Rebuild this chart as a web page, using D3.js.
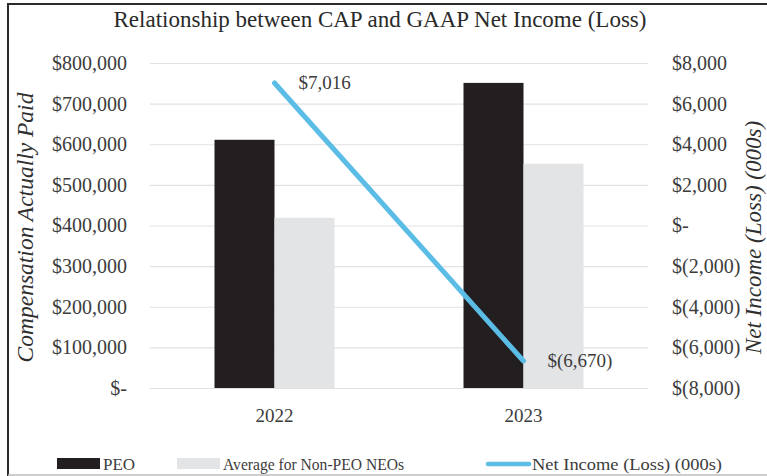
<!DOCTYPE html>
<html>
<head>
<meta charset="utf-8">
<script src="https://cdn.jsdelivr.net/npm/d3@7"></script>
<style>
  html, body { margin: 0; padding: 0; background: #fff; }
  svg { display: block; }
  text { font-family: "Liberation Serif", "Times New Roman", serif; }
</style>
</head>
<body>
<script>
// ---- data ----
const years = ["2022", "2023"];
const seriesNames = ["PEO", "Average for Non-PEO NEOs"];
const peoValues = [611000, 751000];
const nonPeoValues = [419000, 552000];
const netIncomeValues = [7016, -6670];
const netIncomeLabels = ["$7,016", "$(6,670)"];
const leftTickValues = [0, 100000, 200000, 300000, 400000, 500000, 600000, 700000, 800000];
const rightTickValues = [-8000, -6000, -4000, -2000, 0, 2000, 4000, 6000, 8000];
const titleText = "Relationship between CAP and GAAP Net Income (Loss)";
const leftAxisTitle = "Compensation Actually Paid";
const rightAxisTitle = "Net Income (Loss) (000s)";
const lineName = "Net Income (Loss) (000s)";

// ---- layout ----
const W = 767, H = 476;
const plot = { left: 150, right: 648, top: 63, bottom: 388 };
const colors = { peo: "#231f20", nonPeo: "#e3e4e6", line: "#5bbde6", grid: "#e2e2e2", text: "#3c3c3c" };

const svg = d3.select("body").append("svg").attr("width", W).attr("height", H);
svg.append("rect").attr("width", W).attr("height", H).attr("fill", "#fff");

// frame
svg.append("line").attr("x1", 8).attr("x2", W).attr("y1", 4).attr("y2", 4).attr("stroke", "#2b2b2b").attr("stroke-width", 2);
svg.append("line").attr("x1", 8).attr("x2", 8).attr("y1", 3).attr("y2", H).attr("stroke", "#2b2b2b").attr("stroke-width", 2);
svg.append("line").attr("x1", 8).attr("x2", W).attr("y1", 475).attr("y2", 475).attr("stroke", "#bdbdbd").attr("stroke-width", 1.5);

// scales
const x0 = d3.scaleBand().domain(years).range([plot.left, plot.right]).paddingInner(0).paddingOuter(0);
const bw = x0.bandwidth();
const x1 = d3.scaleBand().domain(seriesNames).range([bw / 2 - 60, bw / 2 + 60]).padding(0);
const yL = d3.scaleLinear().domain([0, 800000]).range([plot.bottom, plot.top]);
const yR = d3.scaleLinear().domain([-8000, 8000]).range([plot.bottom, plot.top]);

const fmtL = v => v === 0 ? "$-" : "$" + d3.format(",")(v);
const fmtR = v => v === 0 ? "$-" : (v < 0 ? "$(" + d3.format(",")(-v) + ")" : "$" + d3.format(",")(v));

// gridlines
const grid = svg.append("g").attr("transform", `translate(${plot.left},0)`)
  .call(d3.axisLeft(yL).tickValues(leftTickValues).tickSize(-(plot.right - plot.left)).tickFormat(""));
grid.select(".domain").remove();
grid.selectAll("line").attr("stroke", colors.grid).attr("stroke-width", 1.2);

// left axis
const axL = svg.append("g").attr("transform", "translate(127,0)")
  .call(d3.axisLeft(yL).tickValues(leftTickValues).tickSize(0).tickPadding(0).tickFormat(fmtL));
axL.select(".domain").remove();
axL.selectAll("text").attr("font-family", "Liberation Serif").attr("font-size", 20).attr("fill", colors.text).attr("dy", "0.32em");

// right axis
const axR = svg.append("g").attr("transform", "translate(672,0)")
  .call(d3.axisRight(yR).tickValues(rightTickValues).tickSize(0).tickPadding(0).tickFormat(fmtR));
axR.select(".domain").remove();
axR.selectAll("text").attr("font-family", "Liberation Serif").attr("font-size", 20).attr("fill", colors.text).attr("dy", "0.32em");

// bars
const rows = years.map((y, i) => ({ year: y, vals: [
  { s: seriesNames[0], v: peoValues[i], c: colors.peo },
  { s: seriesNames[1], v: nonPeoValues[i], c: colors.nonPeo } ] }));
const g = svg.append("g");
g.selectAll("g.cat").data(rows).join("g").attr("class", "cat")
  .attr("transform", d => `translate(${x0(d.year)},0)`)
  .selectAll("rect").data(d => d.vals).join("rect")
  .attr("x", d => x1(d.s)).attr("width", x1.bandwidth())
  .attr("y", d => yL(d.v)).attr("height", d => yL(0) - yL(d.v))
  .attr("fill", d => d.c);

// x axis labels
const axX = svg.append("g").attr("transform", `translate(0,${plot.bottom + 20})`)
  .call(d3.axisBottom(x0).tickSize(0).tickPadding(0));
axX.select(".domain").remove();
axX.selectAll("text").attr("font-family", "Liberation Serif").attr("font-size", 19).attr("fill", colors.text).attr("dy", "0.72em");

// line
const pts = years.map((y, i) => [x0(y) + bw / 2, yR(netIncomeValues[i])]);
svg.append("path").attr("d", d3.line()(pts)).attr("fill", "none")
  .attr("stroke", colors.line).attr("stroke-width", 5).attr("stroke-linecap", "round");

// line labels
svg.selectAll("text.dl").data(years).join("text").attr("class", "dl")
  .attr("x", (d, i) => pts[i][0] + 24)
  .attr("y", (d, i) => pts[i][1] + 6)
  .attr("font-size", 19).attr("fill", colors.text)
  .text((d, i) => netIncomeLabels[i]);

// title
svg.append("text").attr("x", 380).attr("y", 27).attr("text-anchor", "middle")
  .attr("font-size", 23).attr("fill", "#2a2a2a").text(titleText);

// axis titles
svg.append("text").attr("transform", `translate(33,${(plot.top + plot.bottom) / 2 + 2}) rotate(-90)`)
  .attr("text-anchor", "middle").attr("font-size", 23.5).attr("font-style", "italic").attr("fill", "#2f2f2f")
  .text(leftAxisTitle);
svg.append("text").attr("transform", `translate(761,${(plot.top + plot.bottom) / 2 + 12}) rotate(-90)`)
  .attr("text-anchor", "middle").attr("font-size", 23).attr("font-style", "italic").attr("fill", "#2f2f2f")
  .text(rightAxisTitle);

// legend
const leg = svg.append("g");
leg.append("rect").attr("x", 57).attr("y", 458).attr("width", 43).attr("height", 11).attr("fill", colors.peo);
leg.append("text").attr("x", 103).attr("y", 470).attr("font-size", 17).attr("fill", colors.text).text(seriesNames[0]);
leg.append("rect").attr("x", 177).attr("y", 458).attr("width", 43).attr("height", 11).attr("fill", colors.nonPeo);
leg.append("text").attr("x", 223).attr("y", 470).attr("font-size", 17).attr("fill", colors.text)
  .attr("textLength", 181).attr("lengthAdjust", "spacingAndGlyphs").text(seriesNames[1]);
leg.append("line").attr("x1", 488).attr("x2", 529).attr("y1", 464).attr("y2", 464)
  .attr("stroke", colors.line).attr("stroke-width", 4.5).attr("stroke-linecap", "round");
leg.append("text").attr("x", 532).attr("y", 470).attr("font-size", 17).attr("fill", colors.text)
  .attr("textLength", 190).attr("lengthAdjust", "spacingAndGlyphs").text(lineName);
</script>
</body>
</html>
